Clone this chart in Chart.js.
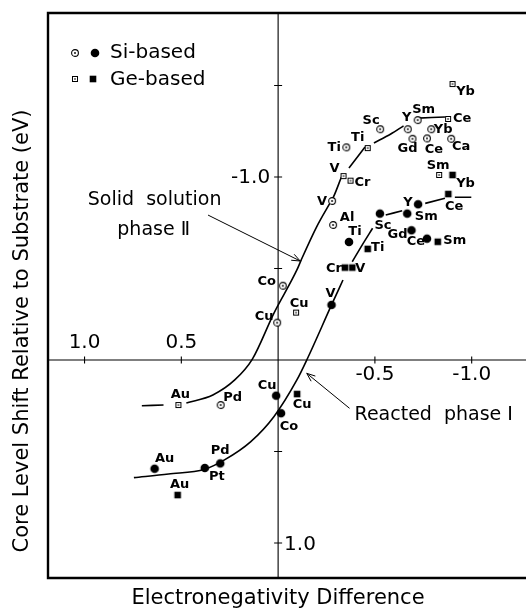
<!DOCTYPE html>
<html><head><meta charset="utf-8">
<script src="https://cdn.jsdelivr.net/npm/chart.js@4/dist/chart.umd.min.js"></script>
<style>html,body{margin:0;padding:0;background:#fff;overflow:hidden}#wrap{width:532px;height:610px}</style>
</head><body><div id="wrap"><canvas id="c" width="532" height="610"></canvas></div>
<script>
// ---------- data ----------
// Si-based, solid solution phase II (open circles)
const siIINames = ["Sc","Y","Sm","Yb","Gd","Ce","Ca","Ti","V","Al","Co","Cu","Pd"];
const siIIX = [-0.527,-0.670,-0.721,-0.791,-0.694,-0.769,-0.894,-0.352,-0.279,-0.284,-0.024,0.005,0.297];
const siIIY = [-1.261,-1.261,-1.311,-1.261,-1.209,-1.211,-1.209,-1.162,-0.869,-0.738,-0.406,-0.204,0.246];
// Ge-based, solid solution phase II (open squares)
const geIINames = ["Yb","Ce","Ti","V","Cr","Sm","Cu","Au"];
const geIIX = [-0.901,-0.878,-0.463,-0.338,-0.374,-0.832,-0.093,0.515];
const geIIY = [-1.508,-1.317,-1.158,-1.005,-0.980,-1.011,-0.259,0.246];
// Si-based, reacted phase I (filled circles)
const siINames = ["Y","Sm","Gd","Ce","Sc","Ti","V","Cu","Co","Pd","Pt","Au"];
const siIX = [-0.723,-0.667,-0.689,-0.769,-0.526,-0.366,-0.276,0.010,-0.015,0.299,0.379,0.638];
const siIY = [-0.851,-0.800,-0.709,-0.663,-0.800,-0.645,-0.301,0.195,0.291,0.565,0.590,0.594];
// Ge-based, reacted phase I (filled squares)
const geINames = ["Yb","Ce","Sm","Ti","Cr","V","Cu","Au"];
const geIX = [-0.901,-0.879,-0.825,-0.463,-0.345,-0.383,-0.098,0.519];
const geIY = [-1.011,-0.907,-0.646,-0.607,-0.505,-0.505,0.186,0.738];
// hand-drawn guide curves (null = break in the drawn line)
const curveIIX = [0.704,0.592,null,0.474,0.337,0.224,0.133,0.022,-0.097,-0.119,-0.199,-0.267,-0.286,-0.327,null,-0.366,-0.449,null,-0.495,-0.582,-0.648,null,-0.724,-0.862];
const curveIIY = [0.250,0.246,null,0.235,0.191,0.109,-0.005,-0.255,-0.492,-0.546,-0.728,-0.856,-0.891,-1.000,null,-1.049,-1.164,null,-1.186,-1.235,-1.279,null,-1.322,-1.328];
const curveIX = [0.745,0.566,0.379,0.277,0.141,0.022,-0.097,-0.148,-0.276,-0.335,null,-0.383,-0.434,-0.488,null,-0.556,-0.641,null,-0.760,-0.862,null,-0.913,-0.998];
const curveIY = [0.643,0.623,0.597,0.546,0.446,0.310,0.109,0.000,-0.301,-0.437,null,-0.537,-0.628,-0.720,null,-0.792,-0.816,null,-0.856,-0.884,null,-0.889,-0.889];
// axis ticks
const xTickValues = [1.0, 0.5, -0.5, -1.0];
const xTickLabels = ["1.0","0.5","-0.5","-1.0"];
const yTickValues = [-1.5,-1.0,-0.5,0.5,1.0];
const yLabelValues = [-1.0, 1.0];
const yTickLabels = ["-1.0","1.0"];
const xTitle = "Electronegativity Difference";
const yTitle = "Core Level Shift Relative to Substrate (eV)";
const legendLabels = ["Si-based","Ge-based"];

// ---------- layout: label offsets (px) ----------
const siIIOff = [[-9,-9],[-1,-12],[6,-10],[12,0],[-5,10],[7,11],[10,8],[-12,0],[-10,1],[14,-7],[-16,-4],[-13,-6],[12,-7]];
const geIIOff = [[13,8],[14,0],[-10,-10],[-9,-7],[12,2],[-1,-9],[3,-9],[2,-10]];
const siIOff = [[-10,-2],[19,3],[-14,4],[-11,3],[3,12],[6,-10],[-1,-11],[-9,-10],[8,13],[0,-13],[12,9],[10,-10]];
const geIOff = [[13,9],[6,13],[17,-1],[10,-1],[-11,1],[8,1],[5,11],[2,-10]];

// ---------- markers ----------
function marker(kind){
  const c=document.createElement('canvas'); c.width=c.height=12;
  const g=c.getContext('2d'); g.fillStyle='#000'; g.strokeStyle='#000';
  if(kind==='oc'){g.lineWidth=1.1;g.beginPath();g.arc(6,6,3.4,0,Math.PI*2);g.fillStyle='#fff';g.fill();g.stroke();g.fillStyle='#000';g.beginPath();g.arc(6,6,0.9,0,Math.PI*2);g.fill();}
  if(kind==='os'){g.lineWidth=1;g.fillStyle='#fff';g.fillRect(3,3,6,6);g.strokeRect(3.5,3.5,5,5);g.fillStyle='#000';g.fillRect(5.3,5.3,1.4,1.4);}
  if(kind==='fc'){g.beginPath();g.arc(6,6,4.3,0,Math.PI*2);g.fill();}
  if(kind==='fs'){g.fillRect(2.7,2.7,6.6,6.6);}
  return c;
}
const M = {oc:marker('oc'),os:marker('os'),fc:marker('fc'),fs:marker('fs')};
const pts=(xs,ys)=>xs.map((v,i)=>({x:v,y:ys[i]}));
const curve=(xs,ys)=>xs.map((v,i)=>({x:v===null?NaN:v,y:ys[i]===null?NaN:ys[i]}));

const FONT="'DejaVu Sans', sans-serif";
const labelSets=[[0,siIINames,siIIOff],[1,geIINames,geIIOff],[2,siINames,siIOff],[3,geINames,geIOff]];

function arrow(ctx,x1,y1,x2,y2){
  ctx.beginPath();ctx.moveTo(x1,y1);ctx.lineTo(x2,y2);ctx.stroke();
  const a=Math.atan2(y2-y1,x2-x1),L=9,w=0.38;
  ctx.beginPath();ctx.moveTo(x2-L*Math.cos(a-w),y2-L*Math.sin(a-w));ctx.lineTo(x2,y2);ctx.lineTo(x2-L*Math.cos(a+w),y2-L*Math.sin(a+w));ctx.stroke();
}

const overlay={
  id:'overlay',
  beforeDatasetsDraw(chart){
    const {ctx,chartArea:a,scales:{x,y}}=chart;
    ctx.save();
    ctx.strokeStyle='#000';ctx.fillStyle='#000';
    ctx.lineWidth=2.4;
    ctx.beginPath();ctx.moveTo(a.right,a.top);ctx.lineTo(a.left,a.top);ctx.lineTo(a.left,a.bottom);ctx.lineTo(a.right,a.bottom);ctx.stroke();
    const x0=x.getPixelForValue(0),y0=y.getPixelForValue(0);
    ctx.lineWidth=1.1;ctx.beginPath();
    ctx.moveTo(x0,a.top);ctx.lineTo(x0,a.bottom);ctx.moveTo(a.left,y0);ctx.lineTo(a.right,y0);
    xTickValues.forEach(v=>{const p=x.getPixelForValue(v);ctx.moveTo(p,y0-3.5);ctx.lineTo(p,y0+3.5);});
    yTickValues.forEach(v=>{const p=y.getPixelForValue(v);ctx.moveTo(x0-4,p);ctx.lineTo(x0+4,p);});
    ctx.stroke();
    ctx.font='20px '+FONT;ctx.textAlign='center';ctx.textBaseline='middle';
    xTickValues.forEach((v,i)=>{const p=x.getPixelForValue(v);ctx.fillText(xTickLabels[i],p,v>0?y0-17:y0+15);});
    yLabelValues.forEach((v,i)=>{const p=y.getPixelForValue(v);
      if(v<0){ctx.textAlign='right';ctx.fillText(yTickLabels[i],x0-8,p+1);} else {ctx.textAlign='left';ctx.fillText(yTickLabels[i],x0+6,p+2);} });
    ctx.restore();
  },
  afterDatasetsDraw(chart){
    const {ctx,scales:{x,y}}=chart;
    ctx.save();ctx.fillStyle='#000';ctx.strokeStyle='#000';
    // point labels
    ctx.font='bold 13px '+FONT;ctx.textAlign='center';ctx.textBaseline='middle';
    labelSets.forEach(([di,names,off])=>{
      const meta=chart.getDatasetMeta(di);
      meta.data.forEach((el,i)=>{ctx.fillText(names[i],el.x+off[i][0],el.y+off[i][1]);});
    });
    // legend
    ctx.drawImage(M.oc,75-6,53-6);ctx.drawImage(M.fc,95-6,53-6);
    ctx.drawImage(M.os,75-6,79-6);ctx.drawImage(M.fs,93-6,79-6);
    ctx.font='20px '+FONT;ctx.textAlign='left';
    ctx.fillText(legendLabels[0],110,53);ctx.fillText(legendLabels[1],110,80);
    // annotations
    ctx.font='19px '+FONT;ctx.textAlign='center';
    ctx.fillText("Solid  solution",x.getPixelForValue(0.638),y.getPixelForValue(-0.874));
    ctx.fillText("phase Ⅱ",x.getPixelForValue(0.643),y.getPixelForValue(-0.710));
    ctx.fillText("Reacted  phase Ⅰ",x.getPixelForValue(-0.804),y.getPixelForValue(0.301));
    ctx.lineWidth=1;
    arrow(ctx,x.getPixelForValue(0.362),y.getPixelForValue(-0.792),x.getPixelForValue(-0.114),y.getPixelForValue(-0.541));
    arrow(ctx,x.getPixelForValue(-0.369),y.getPixelForValue(0.264),x.getPixelForValue(-0.148),y.getPixelForValue(0.073));
    // axis titles
    ctx.font='21px '+FONT;
    ctx.fillText(xTitle,278,599);
    ctx.translate(23,331);ctx.rotate(-Math.PI/2);ctx.fillText(yTitle,0,0);
    ctx.restore();
  }
};

const lineDs=(d)=>({type:'line',data:d,showLine:true,borderColor:'#000',borderWidth:1.6,pointRadius:0,cubicInterpolationMode:'monotone',spanGaps:false,fill:false,order:1});
const ptDs=(d,img)=>({type:'scatter',data:d,pointStyle:img,pointRadius:5,pointHoverRadius:5,showLine:false,order:0});

new Chart(document.getElementById('c'),{
  type:'scatter',
  data:{datasets:[
    ptDs(pts(siIIX,siIIY),M.oc),
    ptDs(pts(geIIX,geIIY),M.os),
    ptDs(pts(siIX,siIY),M.fc),
    ptDs(pts(geIX,geIY),M.fs),
    lineDs(curve(curveIIX,curveIIY)),
    lineDs(curve(curveIX,curveIY))
  ]},
  options:{
    responsive:false,animation:false,devicePixelRatio:1,
    layout:{padding:{left:48,top:13,right:0,bottom:32}},
    plugins:{legend:{display:false},tooltip:{enabled:false}},
    scales:{
      x:{type:'linear',min:-1.2806,max:1.1888,reverse:true,display:false},
      y:{type:'linear',min:-1.8962,max:1.1913,reverse:true,display:false}
    }
  },
  plugins:[overlay]
});
</script></body></html>
